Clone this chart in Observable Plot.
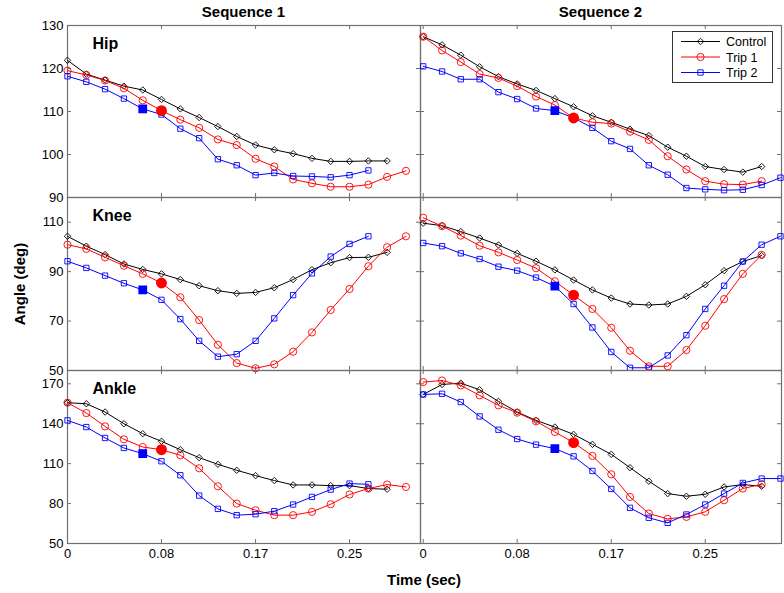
<!DOCTYPE html>
<html><head><meta charset="utf-8">
<script src="https://cdn.jsdelivr.net/npm/d3@7"></script>
<script src="https://cdn.jsdelivr.net/npm/@observablehq/plot@0.6"></script>
<style>
html,body{margin:0;padding:0;background:#fff;}
#chart{position:relative;width:784px;height:593px;background:#fff;font-family:"Liberation Sans",Arial,Helvetica,sans-serif;overflow:hidden;}
.abs{position:absolute;}
.ttl{position:absolute;font-weight:bold;white-space:nowrap;transform:translate(-50%,-50%);color:#000;}
</style></head><body><div id="chart"></div>
<script>
// ---------- data ----------
const time = [0, 0.0167, 0.0333, 0.05, 0.0667, 0.0833, 0.1, 0.1167, 0.1333, 0.15, 0.1667, 0.1833, 0.2, 0.2167, 0.2333, 0.25, 0.2667, 0.2833, 0.3, 0.3167];
const xTickValues = [0, 0.0833, 0.1667, 0.25];
const xTickLabels = ["0", "0.08", "0.17", "0.25"];
const joints = ["Hip", "Knee", "Ankle"];
const sequences = ["Sequence 1", "Sequence 2"];
const seriesNames = ["Control", "Trip 1", "Trip 2"];
const hipTicks = [90, 100, 110, 120, 130];
const kneeTicks = [50, 70, 90, 110];
const ankleTicks = [50, 80, 110, 140, 170];
const hipDomain = [90, 130];
const kneeDomain = [50, 120];
const ankleDomain = [50, 180];
// event sample index (Sequence 1, Sequence 2)
const trip1EventIndex = [5, 8];
const trip2EventIndex = [4, 7];

const hipSeq1Control = [121.9,118.7,117.3,115.9,115.0,112.8,110.6,108.6,106.5,104.2,102.2,101.1,100.2,99.1,98.4,98.4,98.5,98.5];
const hipSeq1Trip1 = [119.5,118.5,117.2,115.4,112.6,110.2,108.1,106.2,103.5,102.2,99.0,97.2,94.2,93.3,92.5,92.5,93.0,94.8,96.2];
const hipSeq1Trip2 = [118.2,116.9,115.2,113.0,110.6,109.3,106.0,103.8,98.9,97.5,95.2,95.7,95.0,94.9,94.7,95.2,96.3];
const hipSeq2Control = [127.4,125.5,123.1,120.4,118.1,116.4,114.9,113.0,111.1,109.0,107.5,105.9,104.4,101.7,99.6,97.2,96.5,95.9,97.2];
const hipSeq2Trip1 = [127.4,124.2,121.5,118.7,117.8,115.9,113.5,111.5,108.5,107.5,107.2,105.3,103.4,99.6,96.5,93.8,93.1,93.0,93.8];
const hipSeq2Trip2 = [120.5,119.3,117.5,117.5,114.5,112.9,110.7,110.2,108.5,106.2,103.1,101.3,97.5,95.3,92.2,91.9,91.7,91.8,92.9,94.6];

const kneeSeq1Control = [104.3,100.3,96.9,93.1,90.9,89.1,86.8,84.3,82.3,81.2,81.6,83.5,86.8,90.8,93.6,95.7,95.8,97.8];
const kneeSeq1Trip1 = [100.9,99.2,95.8,92.4,89.1,85.4,79.6,70.4,60.4,53.0,50.9,52.5,57.6,65.4,74.5,83.0,92.2,99.9,104.3];
const kneeSeq1Trip2 = [94.2,91.5,88.4,85.3,82.6,78.6,70.8,62.0,55.6,56.6,62.0,71.1,80.5,89.3,96.1,101.2,104.3];
const kneeSeq2Control = [109.6,108.6,106.2,103.6,100.8,97.4,94.2,90.7,86.6,82.6,79.3,76.9,76.5,76.9,80.0,84.7,90.4,94.1,96.5];
const kneeSeq2Trip1 = [111.8,108.4,104.6,100.5,97.8,94.7,91.4,86.1,80.5,74.9,67.3,58.0,51.7,51.7,58.3,68.1,78.9,89.1,96.8];
const kneeSeq2Trip2 = [101.6,100.3,97.4,95.1,92.0,90.4,87.6,84.1,76.9,67.4,57.5,51.1,51.1,56.1,64.3,74.9,84.3,94.1,100.9,104.3];

const ankleSeq1Control = [155.8,155.0,148.8,140.0,132.5,126.8,120.5,114.5,109.5,105.0,101.0,97.3,94.0,94.0,93.5,93.5,91.3,90.8];
const ankleSeq1Trip1 = [155.8,148.0,138.0,128.3,122.5,120.5,116.3,106.5,93.0,80.0,75.0,71.3,71.3,73.8,79.5,86.8,91.3,94.3,92.5];
const ankleSeq1Trip2 = [142.5,137.5,129.3,121.8,117.5,111.8,101.3,86.0,76.0,71.3,72.0,74.3,79.3,85.0,90.5,95.0,94.5];
const ankleSeq2Control = [162.0,169.5,170.5,165.5,156.8,148.8,142.5,137.5,132.0,124.5,117.0,107.0,96.8,87.5,85.5,87.0,92.5,94.3,93.0];
const ankleSeq2Trip1 = [171.3,172.5,168.8,161.3,153.8,148.3,141.8,133.8,125.8,115.8,102.0,85.0,72.5,68.5,70.0,73.8,82.5,91.3,94.5];
const ankleSeq2Trip2 = [162.0,162.5,156.3,145.5,135.5,128.5,124.3,121.3,115.5,104.5,91.0,76.8,69.3,65.5,71.8,79.3,87.5,95.5,98.8,98.8];

// ---------- assembly ----------
const panelSeries = [
  [[hipSeq1Control, hipSeq1Trip1, hipSeq1Trip2], [hipSeq2Control, hipSeq2Trip1, hipSeq2Trip2]],
  [[kneeSeq1Control, kneeSeq1Trip1, kneeSeq1Trip2], [kneeSeq2Control, kneeSeq2Trip1, kneeSeq2Trip2]],
  [[ankleSeq1Control, ankleSeq1Trip1, ankleSeq1Trip2], [ankleSeq2Control, ankleSeq2Trip1, ankleSeq2Trip2]]
];
const yTicksByRow = [hipTicks, kneeTicks, ankleTicks];
const yDomainByRow = [hipDomain, kneeDomain, ankleDomain];

const colors = ["#000000", "#ff0000", "#0000ff"];
const symbols = ["diamond2", "circle", "square"];
const symbolR = [2.9, 3.6, 3.0];
const axisColor = "#707070";
const fontFam = "'Liberation Sans', Arial, Helvetica, sans-serif";

// layout (pixels)
const colLeft = [67, 420], colRight = [420, 781];
const rowTop = [25, 197, 370], rowBottom = [197, 370, 543];
const xDomains = [[0, 0.3129], [-0.0024, 0.3176]];
const mL = 45, mR = 5, mT = 5, mB = 28, tickLen = 4;

const chart = document.getElementById("chart");
const toRows = arr => arr.map((v, i) => ({t: time[i], v}));

for (let r = 0; r < 3; r++) {
  for (let c = 0; c < 2; c++) {
    const pw = colRight[c] - colLeft[c];
    const ph = rowBottom[r] - rowTop[r];
    const yTicks = yTicksByRow[r];
    const ser = panelSeries[r][c].map(toRows);
    const marks = [
      Plot.tickY(yTicks, {y: d => d, stroke: axisColor, insetRight: pw - tickLen}),
      Plot.tickY(yTicks, {y: d => d, stroke: axisColor, insetLeft: pw - tickLen}),
      Plot.tickX(xTickValues, {x: d => d, stroke: axisColor, insetBottom: ph - tickLen}),
      Plot.tickX(xTickValues, {x: d => d, stroke: axisColor, insetTop: ph - tickLen}),
      Plot.frame({stroke: axisColor, strokeWidth: 1.2})
    ];
    for (let s = 0; s < 3; s++) {
      marks.push(Plot.line(ser[s], {x: "t", y: "v", stroke: colors[s], strokeWidth: 1}));
      marks.push(Plot.dot(ser[s], {x: "t", y: "v", symbol: symbols[s], r: symbolR[s], stroke: colors[s], fill: "none", strokeWidth: 0.9}));
    }
    marks.push(Plot.dot([ser[2][trip2EventIndex[c]]], {x: "t", y: "v", symbol: "square", r: 4.1, fill: colors[2], stroke: colors[2]}));
    marks.push(Plot.dot([ser[1][trip1EventIndex[c]]], {x: "t", y: "v", symbol: "circle", r: 4.7, fill: colors[1], stroke: colors[1]}));
    if (c === 0) {
      marks.push(Plot.text([joints[r]], {text: d => d, frameAnchor: "top-left", textAnchor: "start", lineAnchor: "bottom", dx: 25, dy: 23, fontWeight: "bold", fontSize: 16, fill: "#000"}));
      marks.push(Plot.axisY(yTicks, {anchor: "left", label: null, tickSize: 0, tickPadding: 4, fontSize: 13, tickFormat: d => String(d)}));
    }
    if (r === 2) marks.push(Plot.axisX(xTickValues, {anchor: "bottom", label: null, tickSize: 0, tickPadding: 5, fontSize: 13, tickFormat: (d, i) => xTickLabels[i]}));

    const svg = Plot.plot({
      width: pw + mL + mR,
      height: ph + mT + mB,
      marginLeft: mL, marginRight: mR, marginTop: mT, marginBottom: mB,
      x: {domain: xDomains[c], axis: null, label: null},
      y: {domain: yDomainByRow[r], axis: null, label: null},
      style: {background: "transparent", overflow: "visible", fontFamily: fontFam, fontSize: "13px", color: "#000"},
      marks
    });
    svg.style.position = "absolute";
    svg.style.left = (colLeft[c] - mL) + "px";
    svg.style.top = (rowTop[r] - mT) + "px";
    svg.style.maxWidth = "none";
    chart.appendChild(svg);
  }
}

// ---------- titles ----------
function addTitle(text, x, y, size, rotate) {
  const d = document.createElement("div");
  d.className = "ttl";
  d.textContent = text;
  d.style.left = x + "px";
  d.style.top = y + "px";
  d.style.fontSize = size + "px";
  if (rotate) d.style.transform = "translate(-50%,-50%) rotate(-90deg)";
  chart.appendChild(d);
}
addTitle(sequences[0], (colLeft[0] + colRight[0]) / 2, 11, 15);
addTitle(sequences[1], (colLeft[1] + colRight[1]) / 2, 11, 15);
addTitle("Angle (deg)", 19, (rowTop[0] + rowBottom[2]) / 2, 15, true);
addTitle("Time (sec)", (colLeft[0] + colRight[1]) / 2, 579, 15);

// ---------- legend ----------
const lg = d3.select(chart).append("svg")
  .attr("class", "abs").attr("width", 102).attr("height", 53)
  .style("left", "672px").style("top", "31px");
lg.append("rect").attr("x", 0.5).attr("y", 0.5).attr("width", 100).attr("height", 51)
  .attr("fill", "#fff").attr("stroke", "#333").attr("stroke-width", 1);
const symMap = {diamond2: d3.symbolDiamond2, circle: d3.symbolCircle, square: d3.symbolSquare};
seriesNames.forEach((name, i) => {
  const y = 10.5 + i * 15.5;
  lg.append("line").attr("x1", 9).attr("x2", 48).attr("y1", y).attr("y2", y).attr("stroke", colors[i]).attr("stroke-width", 1);
  lg.append("path").attr("d", d3.symbol(symMap[symbols[i]], Math.PI * symbolR[i] * symbolR[i])())
    .attr("transform", `translate(28.5,${y})`).attr("fill", "none").attr("stroke", colors[i]).attr("stroke-width", 0.9);
  lg.append("text").attr("x", 54).attr("y", y + 4.5).text(name)
    .attr("font-family", fontFam).attr("font-size", 12.5).attr("fill", "#000");
});
</script></body></html>
